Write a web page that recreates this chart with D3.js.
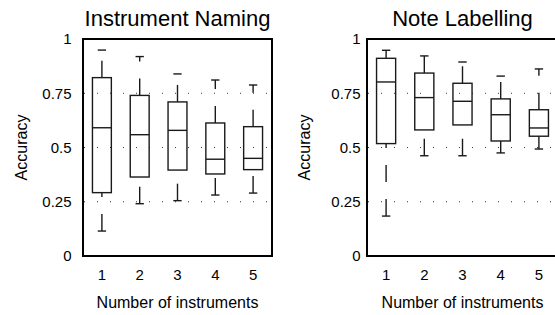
<!DOCTYPE html>
<html>
<head>
<meta charset="utf-8">
<script src="https://cdn.jsdelivr.net/npm/d3@7"></script>
<style>
  body { margin: 0; background: #fff; }
  svg { display: block; font-family: "Liberation Sans", Arial, Helvetica, sans-serif; }
</style>
</head>
<body>
<svg id="chart" width="555" height="315"></svg>
<script>
// ---- data ----
const categories = [1, 2, 3, 4, 5];
const yTicks = [0, 0.25, 0.5, 0.75, 1];
const yTickLabels = ["0", "0.25", "0.5", "0.75", "1"];
const gridValues = [0.25, 0.5, 0.75];

const titles = ["Instrument Naming", "Note Labelling"];
const xLabel = "Number of instruments";
const yLabel = "Accuracy";

// Instrument Naming: lower whisker, q1, median, q3, upper whisker
const namingLow    = [0.115, 0.241, 0.255, 0.281, 0.290];
const namingQ1     = [0.292, 0.364, 0.396, 0.378, 0.398];
const namingMedian = [0.591, 0.559, 0.579, 0.446, 0.450];
const namingQ3     = [0.822, 0.740, 0.710, 0.613, 0.596];
const namingHigh   = [0.949, 0.919, 0.839, 0.811, 0.788];

// Note Labelling
const noteLow    = [0.184, 0.462, 0.462, 0.475, 0.493];
const noteQ1     = [0.518, 0.581, 0.604, 0.530, 0.552];
const noteMedian = [0.802, 0.730, 0.713, 0.651, 0.590];
const noteQ3     = [0.911, 0.843, 0.796, 0.724, 0.674];
const noteHigh   = [0.948, 0.922, 0.894, 0.829, 0.862];

function build(low, q1, med, q3, high) {
  return categories.map((c, i) => ({ cat: c, low: low[i], q1: q1[i], med: med[i], q3: q3[i], high: high[i] }));
}
const panels = [
  { title: titles[0], data: build(namingLow, namingQ1, namingMedian, namingQ3, namingHigh),
    x0: 83, x1: 272, tickRight: 71.5, yLabelX: 27 },
  { title: titles[1], data: build(noteLow, noteQ1, noteMedian, noteQ3, noteHigh),
    x0: 367, x1: 558, tickRight: 360.5, yLabelX: 309.5 }
];

const svg = d3.select("#chart");
const yTop = 39, yBot = 256;
const y = d3.scaleLinear().domain([0, 1]).range([yBot, yTop]);
const boxW = 0.5, capW = 0.22;
const ink = "#1a1a1a";

panels.forEach(p => {
  const x = d3.scaleLinear().domain([0.5, 5.5]).range([p.x0, p.x1]);
  const g = svg.append("g");

  // dotted grid
  g.selectAll("line.grid").data(gridValues).join("line")
    .attr("x1", p.x0 + 1).attr("x2", p.x1)
    .attr("y1", d => y(d)).attr("y2", d => y(d))
    .attr("stroke", "#333").attr("stroke-width", 1)
    .attr("stroke-dasharray", "1,12");

  // boxes
  const b = g.selectAll("g.box").data(p.data).join("g");
  const halfBox = (x(1 + boxW / 2) - x(1));
  const halfCap = (x(1 + capW / 2) - x(1));

  // upper whisker (from q3 up)
  b.append("line")
    .attr("x1", d => x(d.cat)).attr("x2", d => x(d.cat))
    .attr("y1", d => y(d.q3)).attr("y2", d => y(d.high))
    .attr("stroke", ink).attr("stroke-width", 1.4).attr("stroke-dasharray", "17,17");
  // lower whisker (from lower adjacent up to q1)
  b.append("line")
    .attr("x1", d => x(d.cat)).attr("x2", d => x(d.cat))
    .attr("y1", d => y(d.low)).attr("y2", d => y(d.q1))
    .attr("stroke", ink).attr("stroke-width", 1.4).attr("stroke-dasharray", "17,17");
  // caps
  b.append("line")
    .attr("x1", d => x(d.cat) - halfCap).attr("x2", d => x(d.cat) + halfCap)
    .attr("y1", d => y(d.high)).attr("y2", d => y(d.high))
    .attr("stroke", ink).attr("stroke-width", 1.4);
  b.append("line")
    .attr("x1", d => x(d.cat) - halfCap).attr("x2", d => x(d.cat) + halfCap)
    .attr("y1", d => y(d.low)).attr("y2", d => y(d.low))
    .attr("stroke", ink).attr("stroke-width", 1.4);
  // box
  b.append("rect")
    .attr("x", d => x(d.cat) - halfBox).attr("width", 2 * halfBox)
    .attr("y", d => y(d.q3)).attr("height", d => y(d.q1) - y(d.q3))
    .attr("fill", "none").attr("stroke", ink).attr("stroke-width", 1.4);
  // median
  b.append("line")
    .attr("x1", d => x(d.cat) - halfBox).attr("x2", d => x(d.cat) + halfBox)
    .attr("y1", d => y(d.med)).attr("y2", d => y(d.med))
    .attr("stroke", ink).attr("stroke-width", 1.4);

  // frame
  g.append("rect")
    .attr("x", p.x0).attr("y", yTop)
    .attr("width", p.x1 - p.x0).attr("height", yBot - yTop)
    .attr("fill", "none").attr("stroke", "#000").attr("stroke-width", 2);

  // y tick labels
  g.selectAll("text.yt").data(yTicks).join("text")
    .attr("x", p.tickRight).attr("y", d => y(d))
    .attr("dy", "0.36em")
    .attr("text-anchor", "end").attr("font-size", 15).attr("fill", "#000")
    .text((d, i) => yTickLabels[i]);

  // x tick labels
  g.selectAll("text.xt").data(categories).join("text")
    .attr("x", d => x(d)).attr("y", 280)
    .attr("text-anchor", "middle").attr("font-size", 15).attr("fill", "#000")
    .text(d => d);

  // title
  g.append("text")
    .attr("x", (p.x0 + p.x1) / 2).attr("y", 26)
    .attr("text-anchor", "middle").attr("font-size", 22).attr("fill", "#000")
    .text(p.title);

  // x label
  g.append("text")
    .attr("x", (p.x0 + p.x1) / 2).attr("y", 307.5)
    .attr("text-anchor", "middle").attr("font-size", 16).attr("fill", "#000")
    .text(xLabel);

  // y label
  g.append("text")
    .attr("transform", `translate(${p.yLabelX},${(yTop + yBot) / 2}) rotate(-90)`)
    .attr("text-anchor", "middle").attr("font-size", 16).attr("fill", "#000")
    .text(yLabel);
});
</script>
</body>
</html>
